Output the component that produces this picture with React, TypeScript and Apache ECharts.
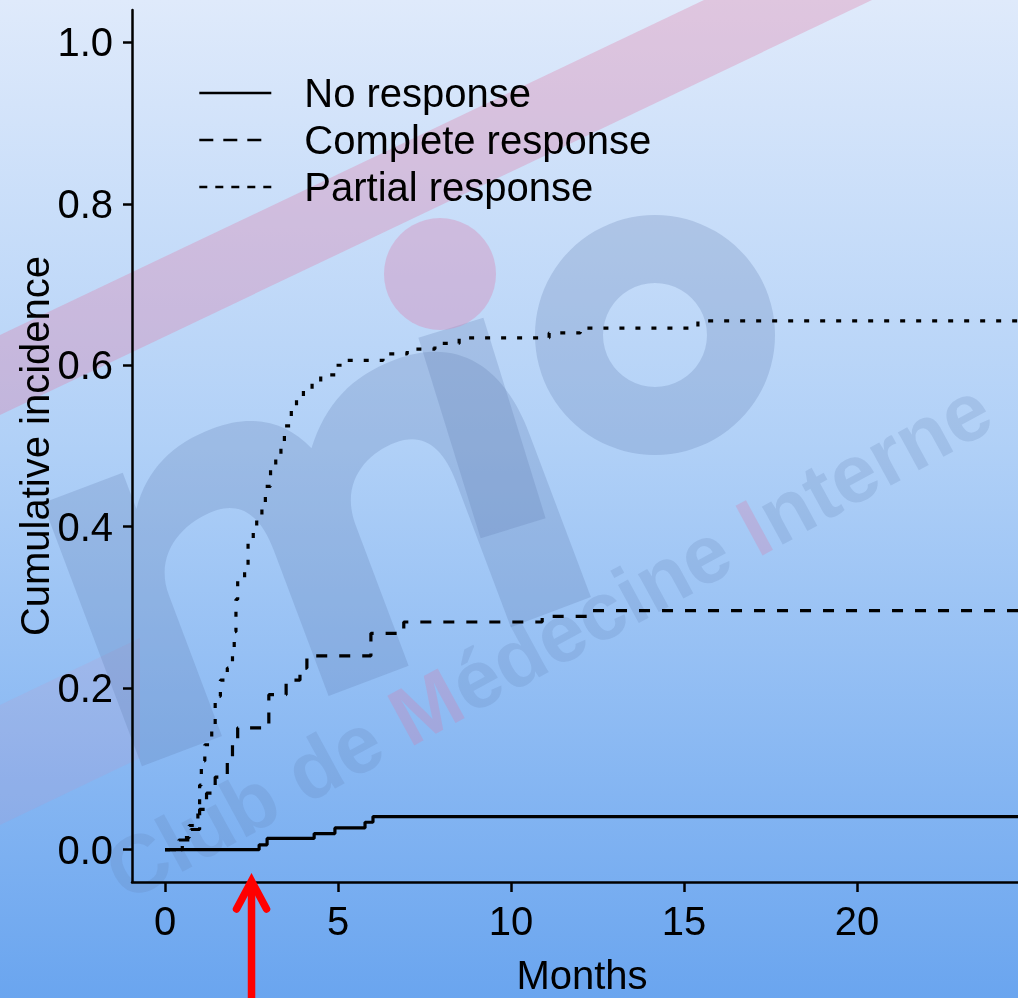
import React, { useEffect, useRef } from "react";
import * as echarts from "echarts";

// ---- data (months, cumulative incidence) ----
const noResponseTimes = [0, 2.72, 2.95, 4.31, 4.91, 5.78, 6.01, 26];
const noResponseValues = [0, 0.006, 0.014, 0.02, 0.027, 0.034, 0.041, 0.041];

const completeTimes = [0, 0.4, 0.75, 1.0, 1.2, 1.45, 1.8, 1.95, 2.1, 3.0, 3.5, 3.9, 4.1, 5.95, 6.9, 10.9, 12.2, 26];
const completeValues = [0, 0.012, 0.025, 0.05, 0.07, 0.09, 0.11, 0.13, 0.151, 0.192, 0.21, 0.225, 0.24, 0.268, 0.282, 0.289, 0.296, 0.296];

const partialTimes = [0, 0.5, 0.7, 0.95, 1.0, 1.05, 1.15, 1.35, 1.45, 1.6, 1.8, 1.95, 2.0, 2.05, 2.1, 2.3, 2.4, 2.55, 2.65, 2.8, 2.9, 3.05, 3.2, 3.35, 3.45, 3.65, 3.8, 4.0, 4.25, 4.5, 4.95, 5.2, 6.3, 7.0, 7.8, 8.5, 11.1, 12.0, 15.4, 26];
const partialValues = [0, 0.015, 0.03, 0.05, 0.08, 0.11, 0.13, 0.15, 0.19, 0.21, 0.225, 0.24, 0.27, 0.31, 0.335, 0.35, 0.38, 0.395, 0.415, 0.43, 0.45, 0.47, 0.49, 0.505, 0.525, 0.545, 0.56, 0.57, 0.578, 0.588, 0.6, 0.606, 0.614, 0.62, 0.627, 0.634, 0.64, 0.646, 0.655, 0.655];

const seriesNames = ["No response", "Complete response", "Partial response"];
const xTicks = [0, 5, 10, 15, 20];
const yTicks = [0, 0.2, 0.4, 0.6, 0.8, 1.0];
const arrowMonth = 2.5;

const FONT = "Liberation Sans";
const FS = 40;

// watermark logo letter "m" outline
const M_PATH =
  "M0,300 L0,10 L90,10 L90,50 C115,15 150,0 195,0 C240,0 270,20 285,55 C315,18 350,0 400,0 C470,0 505,45 505,120 L505,300 L415,300 L415,140 C415,100 400,80 370,80 C335,80 300,100 300,145 L300,300 L210,300 L210,140 C210,100 195,80 165,80 C130,80 90,100 90,145 L90,300 Z";
echarts.graphic.registerShape("mlogo", echarts.graphic.extendPath(M_PATH, {}));

function pairs(t: number[], v: number[]) {
  return t.map((x, i) => [x, v[i]]);
}

function watermark(arrowX: number) {
  const wmColor = "rgba(95,125,175,0.25)";
  const pink = "rgba(225,120,165,0.32)";
  return [
    {
      type: "rect",
      id: "bg",
      z: -20,
      silent: true,
      shape: { x: 0, y: 0, width: 1018, height: 998 },
      style: {
        fill: new echarts.graphic.LinearGradient(0, 0, 0, 1, [
          { offset: 0, color: "#dfeafb" },
          { offset: 0.45, color: "#b0d0f7" },
          { offset: 1, color: "#6aa5ef" },
        ]),
      },
    },
    {
      type: "polygon",
      id: "band1",
      z: -15,
      silent: true,
      shape: { points: [[0, 335], [0, 415], [872, 0], [704, 0]] },
      style: { fill: pink },
    },
    {
      type: "polygon",
      id: "band2",
      z: -15,
      silent: true,
      shape: { points: [[0, 705], [0, 825], [140, 758], [140, 638]] },
      style: { fill: "rgba(225,130,170,0.12)" },
    },
    {
      type: "group",
      id: "mgroup",
      z: -12,
      x: 315,
      y: 545,
      rotation: 0.36,
      silent: true,
      children: [
        {
          type: "mlogo",
          z: -12,
          x: -240,
          y: -145,
          scaleX: 0.95,
          scaleY: 0.97,
          style: { fill: wmColor },
        },
      ],
    },
    {
      type: "rect",
      id: "istem",
      z: -12,
      x: 482,
      y: 428,
      rotation: 0.3,
      silent: true,
      shape: { x: -34, y: -105, width: 68, height: 210 },
      style: { fill: wmColor },
    },
    {
      type: "circle",
      id: "idot",
      z: -12,
      silent: true,
      shape: { cx: 440, cy: 274, r: 56 },
      style: { fill: "rgba(215,140,185,0.42)" },
    },
    {
      type: "ring",
      id: "oring",
      z: -12,
      silent: true,
      shape: { cx: 655, cy: 335, r: 120, r0: 52 },
      style: { fill: wmColor },
    },
    {
      type: "text",
      id: "club",
      z: -12,
      x: 548,
      y: 640,
      rotation: 0.5,
      silent: true,
      style: {
        text: "Club de {p|M}édecine {p|I}nterne",
        fontSize: 82,
        lineHeight: 82,
        fontWeight: "bold",
        fontFamily: FONT,
        fill: "rgba(95,125,175,0.2)",
        align: "center",
        verticalAlign: "middle",
        rich: {
          p: {
            fontSize: 82,
            lineHeight: 82,
            fontWeight: "bold",
            fontFamily: FONT,
            fill: "rgba(220,120,165,0.28)",
          },
        },
      },
    },
    {
      type: "line",
      id: "arrowShaft",
      z: 50,
      silent: true,
      shape: { x1: arrowX, y1: 1010, x2: arrowX, y2: 884 },
      style: { stroke: "#ff0000", lineWidth: 7.5 },
    },
    {
      type: "polyline",
      id: "arrowHead",
      z: 50,
      silent: true,
      shape: { points: [[arrowX - 15, 909], [arrowX, 881], [arrowX + 15, 909]] },
      style: { stroke: "#ff0000", lineWidth: 7.5, lineCap: "round", lineJoin: "miter", fill: null },
    },
  ];
}

export default function App() {
  const ref = useRef<HTMLDivElement>(null);
  useEffect(() => {
    if (!ref.current) return;
    const chart = echarts.init(ref.current, undefined, { renderer: "svg" });
    const lineBase = { type: "line", step: "end", showSymbol: false, symbol: "none", z: 5 };
    const hidden = { color: "rgba(0,0,0,0)", borderColor: "rgba(0,0,0,0)", borderWidth: 0, opacity: 0 };
    chart.setOption({
      animation: false,
      backgroundColor: "transparent",
      textStyle: { fontFamily: FONT },
      grid: { left: 132, right: 0, top: 10, bottom: 116, containLabel: false, outerBoundsMode: "none" },
      legend: {
        orient: "vertical",
        left: 198,
        top: 73,
        itemWidth: 72,
        itemHeight: 20,
        itemGap: 7,
        padding: 0,
        itemStyle: hidden,
        data: [
          { name: seriesNames[0], itemStyle: hidden, lineStyle: { color: "#000", width: 2.6, type: "solid" } },
          { name: seriesNames[1], itemStyle: hidden, lineStyle: { color: "#000", width: 2.6, type: [14, 10] } },
          { name: seriesNames[2], itemStyle: hidden, lineStyle: { color: "#000", width: 2.6, type: [8, 8] } },
        ],
        textStyle: { fontSize: FS, color: "#000", fontFamily: FONT, lineHeight: FS, padding: [0, 0, 0, 28] },
      },
      xAxis: {
        type: "value",
        min: -0.954,
        max: 24.65,
        name: "Months",
        nameLocation: "middle",
        nameGap: 76,
        nameMoveOverlap: false,
        nameTextStyle: { fontSize: FS, lineHeight: 34, color: "#000", fontFamily: FONT, padding: [0, 0, 0, 14] },
        axisLine: { show: true, onZero: false, lineStyle: { color: "#000", width: 2.5 } },
        axisTick: { show: true, length: 10, lineStyle: { color: "#000", width: 2.5 }, customValues: xTicks },
        axisLabel: { fontSize: FS, color: "#000", margin: 19, fontFamily: FONT, customValues: xTicks },
        splitLine: { show: false },
      },
      yAxis: {
        type: "value",
        min: -0.04,
        max: 1.04,
        name: "Cumulative incidence",
        nameLocation: "middle",
        nameGap: 77,
        nameMoveOverlap: false,
        nameTextStyle: { fontSize: FS, lineHeight: 40, color: "#000", fontFamily: FONT },
        axisLine: { show: true, onZero: false, lineStyle: { color: "#000", width: 2.5 } },
        axisTick: { show: true, length: 9, lineStyle: { color: "#000", width: 2.5 }, customValues: yTicks },
        axisLabel: {
          fontSize: FS,
          color: "#000",
          margin: 19,
          fontFamily: FONT,
          customValues: yTicks,
          formatter: (v: number) => v.toFixed(1),
        },
        splitLine: { show: false },
      },
      series: [
        {
          ...lineBase,
          name: seriesNames[0],
          data: pairs(noResponseTimes, noResponseValues),
          lineStyle: { color: "#000", width: 3.2, type: "solid" },
          itemStyle: { color: "#000" },
        },
        {
          ...lineBase,
          name: seriesNames[1],
          data: pairs(completeTimes, completeValues),
          lineStyle: { color: "#000", width: 3.2, type: [11, 12] },
          itemStyle: { color: "#000" },
        },
        {
          ...lineBase,
          name: seriesNames[2],
          data: pairs(partialTimes, partialValues),
          lineStyle: { color: "#000", width: 3.2, type: [5, 11] },
          itemStyle: { color: "#000" },
        },
      ],
    });
    const ax = chart.convertToPixel({ xAxisIndex: 0 }, arrowMonth) as number;
    chart.setOption({ graphic: watermark(ax) });
    return () => chart.dispose();
  }, []);
  return (
    <div
      ref={ref}
      style={{ position: "fixed", left: 0, top: 0, width: 1018, height: 998 }}
    />
  );
}
